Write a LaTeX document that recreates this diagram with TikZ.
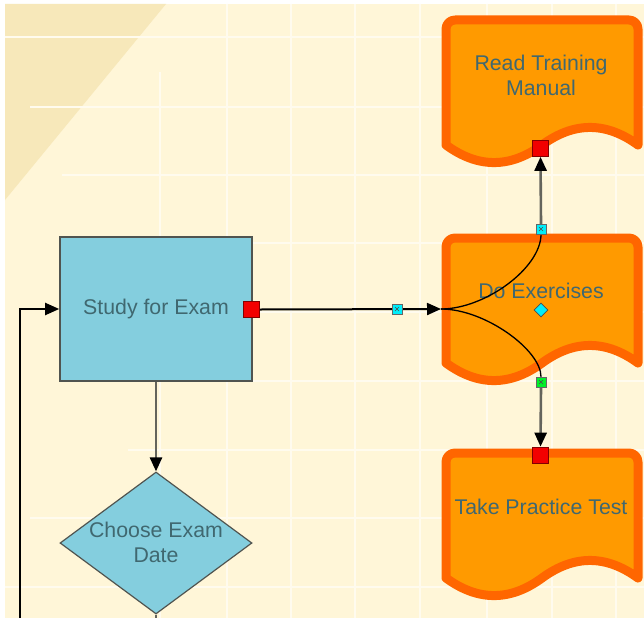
\documentclass[tikz,border=0pt]{standalone}
\usepackage{fontspec}
\setmainfont{Liberation Sans}
\usetikzlibrary{shapes.geometric,arrows.meta}
\definecolor{bgc}{RGB}{255,246,216}
\definecolor{tric}{RGB}{247,232,186}
\definecolor{gridc}{RGB}{255,251,238}
\definecolor{bluef}{RGB}{132,206,222}
\definecolor{edgec}{RGB}{80,84,80}
\definecolor{orf}{RGB}{255,154,0}
\definecolor{ord}{RGB}{255,102,0}
\definecolor{txtc}{RGB}{64,104,112}
\definecolor{graylink}{RGB}{100,100,92}
\definecolor{redm}{RGB}{242,0,0}
\definecolor{redd}{RGB}{130,0,0}
\definecolor{cyanm}{RGB}{0,238,250}
\definecolor{greenm}{RGB}{0,240,40}
\tikzset{
  gridline/.style={draw=gridc,line width=1.6},
  docline/.style={fill=orf,draw=ord,line width=9,line join=round},
  lbl/.style={align=center,text=txtc,font=\fontsize{21.3}{25}\selectfont,inner sep=0},
  stepbox/.style={rectangle,fill=bluef,draw=edgec,line width=1.6,minimum width=192,minimum height=144,inner sep=0,text=txtc,font=\fontsize{21.3}{25}\selectfont},
  decision/.style={diamond,fill=bluef,draw=edgec,line width=1.2,minimum width=192,minimum height=142,inner sep=0},
  redsq/.style={rectangle,fill=redm,draw=redd,line width=0.7,minimum size=16,inner sep=0},
  xmark/.style={rectangle,draw=black!60,line width=0.4,minimum size=10,inner sep=0,
    path picture={\draw[black!70,line width=0.5]
      ([shift={(-2,-2)}]path picture bounding box.center) -- ([shift={(2,2)}]path picture bounding box.center)
      ([shift={(-2,2)}]path picture bounding box.center) -- ([shift={(2,-2)}]path picture bounding box.center);}},
  cmark/.style={xmark,fill=cyanm},
  gmark/.style={xmark,fill=greenm},
  cdiam/.style={diamond,fill=cyanm,draw=black!70,line width=0.6,minimum size=14,inner sep=0},
  blkline/.style={draw=black,line width=2},
  curveline/.style={draw=black,line width=1.3},
  graylinkline/.style={draw=graylink,line width=2.6},
  tip/.style={-{Triangle[length=14,width=12,black]}}
}
\newcommand{\docshape}[2]{%
  \begin{scope}[shift={(#1,#2)}]
    \path[docline] (0,60) [rounded corners=9] -- (0,0) -- (192,0) [sharp corners] -- (192,125)
      .. controls (160,101.6) and (128,101.6) .. (96,125)
      .. controls (64,148.4) and (32,148.4) .. (0,125) -- cycle;
  \end{scope}}
\begin{document}
\begin{tikzpicture}[x=1pt,y=-1pt]
\useasboundingbox (0,0) rectangle (644,618);
\fill[white] (0,0) rectangle (644,618);
\fill[bgc] (5,4) rectangle (644,618);
\fill[tric] (5,4) -- (166,4) -- (5,200) -- cycle;
% grid
\foreach \y/\s in {37/5,107/30,175/62,243/62,312/62,381/62,450/128,518/30,587/5}
  \draw[gridline] (\s,\y) -- (644,\y);
\draw[gridline] (160,72) -- (160,618);
\foreach \x in {227,291,355,420,487,552,616}
  \draw[gridline] (\x,4) -- (\x,618);
% documents
\docshape{446}{20}
\docshape{446}{238}
\docshape{446}{453}
\node[lbl] (read) at (541,75) {Read Training\\Manual};
\node[lbl] (do) at (541,291) {Do Exercises};
\node[lbl] (take) at (541,507) {Take Practice Test};
% blue shapes
\node[stepbox] (study) at (156,309) {Study for Exam};
\node[decision] (choose) at (156,543) {};
\node[lbl] (choosetxt) at (156,542) {Choose Exam\\Date};
% ports and markers
\coordinate (doW) at (441,309);
\coordinate (loopIn) at (20,618);
\coordinate (chooseOut) at (156,618);
\node[redsq] (sqStudy) at (251.5,309.5) {};
\node[redsq] (sqRead) at (540.5,148.5) {};
\node[redsq] (sqTake) at (540.5,455) {};
\node[cmark] (mkUp) at (541,229) {};
\node[gmark] (mkDn) at (541,382) {};
% connectors
\draw[blkline,tip] (sqStudy.east) -- (doW);
\draw[curveline] (doW) .. controls (485,309) and (541,268) .. (mkUp.south);
\draw[curveline] (doW) .. controls (485,309) and (541,350) .. (mkDn.north);
\draw[graylinkline,tip] (mkUp.north) -- (sqRead.south);
\draw[graylinkline,tip] (mkDn.south) -- (sqTake.north);
\draw[graylinkline,tip] (study.south) -- (choose.north);
\draw[graylinkline] (choose.south) -- (chooseOut);
\draw[blkline,tip] (loopIn) |- (study.west);
% markers on top
\node[redsq] at (sqStudy) {};
\node[redsq] at (sqRead) {};
\node[redsq] at (sqTake) {};
\node[cmark] (mkH) at (397,309) {};
\node[cmark] at (mkUp) {};
\node[gmark] at (mkDn) {};
\node[cdiam] (mkC) at (541,310) {};
\end{tikzpicture}
\end{document}
